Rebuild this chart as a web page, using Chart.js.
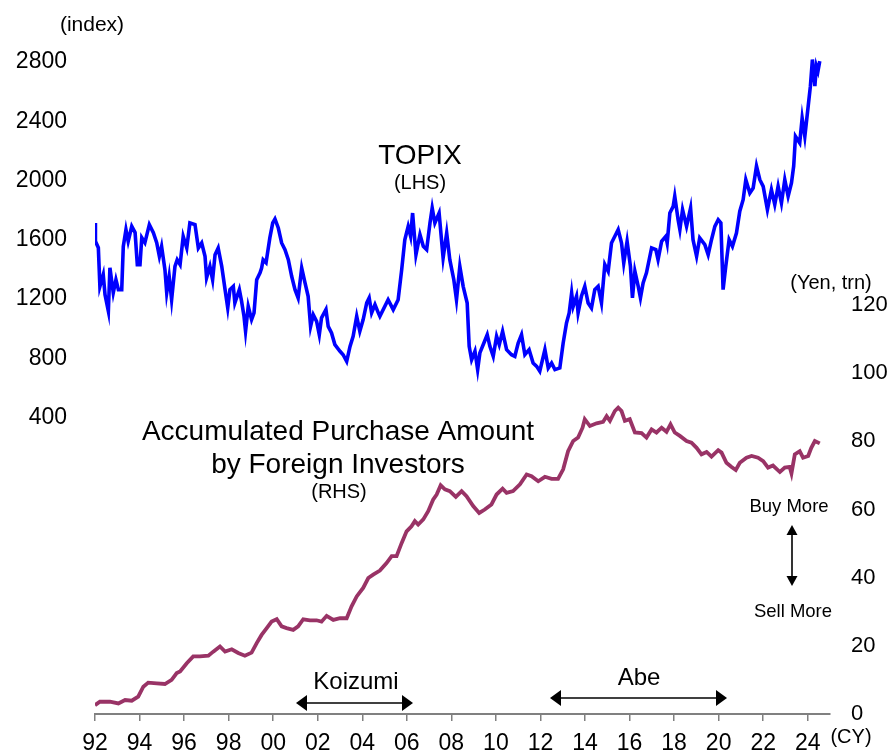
<!DOCTYPE html>
<html>
<head>
<meta charset="utf-8">
<script src="https://cdn.jsdelivr.net/npm/chart.js@4.4.1/dist/chart.umd.min.js"></script>
<style>
html,body{margin:0;padding:0;background:#fff;}
canvas{display:block;}
</style>
</head>
<body>
<canvas id="c" width="893" height="754"></canvas>
<script>
// ---- data ----
const xTickYears = [1992,1994,1996,1998,2000,2002,2004,2006,2008,2010,2012,2014,2016,2018,2020,2022,2024];
const leftTicks = [400,800,1200,1600,2000,2400,2800];
const rightTicks = [0,20,40,60,80,100,120];

const topixYears = [1992.00,1992.02,1992.15,1992.22,1992.37,1992.45,1992.60,1992.67,1992.82,1992.94,
1993.05,1993.20,1993.27,1993.39,1993.49,1993.65,1993.80,1993.90,
1994.02,1994.10,1994.24,1994.44,1994.62,1994.77,1994.89,1994.99,
1995.14,1995.22,1995.33,1995.44,1995.59,1995.69,1995.82,1995.96,
1996.12,1996.26,1996.49,1996.64,1996.79,1996.94,
1997.01,1997.16,1997.28,1997.39,1997.53,1997.69,1997.84,1997.96,
1998.06,1998.21,1998.28,1998.48,1998.58,1998.69,1998.76,1998.88,
1999.03,1999.14,1999.26,1999.41,1999.48,1999.55,1999.68,1999.85,1999.98,
2000.08,2000.23,2000.38,2000.53,2000.68,2000.83,2000.98,
2001.12,2001.28,2001.43,2001.57,2001.68,2001.80,2001.95,
2002.07,2002.17,2002.37,2002.47,2002.62,2002.77,
2003.00,2003.14,2003.30,2003.45,2003.59,2003.75,2003.89,
2004.04,2004.20,2004.31,2004.42,2004.57,2004.72,2004.79,
2005.16,2005.39,2005.61,2005.77,2005.91,
2006.06,2006.17,2006.26,2006.41,2006.59,2006.74,2006.89,
2007.04,2007.14,2007.26,2007.45,2007.63,2007.79,2007.93,
2008.11,2008.23,2008.38,2008.53,2008.71,2008.80,2008.91,
2009.06,2009.18,2009.28,2009.46,2009.61,2009.73,2009.88,
2010.03,2010.15,2010.30,2010.48,2010.70,2010.85,
2011.00,2011.15,2011.30,2011.49,2011.67,2011.83,2011.97,
2012.20,2012.35,2012.50,2012.65,2012.87,
2013.02,2013.17,2013.29,2013.40,2013.47,2013.62,2013.69,2013.84,2013.99,
2014.14,2014.29,2014.44,2014.59,2014.74,2014.89,
2015.04,2015.19,2015.34,2015.49,2015.64,2015.74,2015.89,
2016.04,2016.13,2016.24,2016.39,2016.49,2016.61,2016.76,2016.99,
2017.18,2017.28,2017.44,2017.63,2017.69,2017.81,2017.96,
2018.03,2018.18,2018.26,2018.38,2018.56,2018.74,2018.85,
2019.01,2019.15,2019.38,2019.53,2019.68,2019.83,2019.98,
2020.10,2020.20,2020.32,2020.47,2020.62,2020.80,2020.95,
2021.10,2021.22,2021.40,2021.55,2021.70,2021.85,
2022.00,2022.19,2022.37,2022.52,2022.67,2022.82,2022.97,
2023.12,2023.27,2023.37,2023.45,2023.64,2023.75,2023.87,
2024.02,2024.12,2024.21,2024.32,2024.39,2024.46,2024.54];

const topixValues = [1714,1590,1547,1286,1365,1230,1118,1412,1243,1331,
1264,1264,1556,1669,1590,1691,1649,1433,
1433,1615,1581,1703,1649,1581,1489,1556,
1399,1243,1354,1196,1421,1466,1433,1624,
1545,1714,1703,1545,1579,1489,
1343,1421,1331,1500,1545,1421,1264,1140,
1264,1286,1174,1264,1186,1084,983,1151,
1062,1107,1331,1377,1410,1466,1446,1613,1714,
1741,1680,1579,1534,1466,1354,1264,
1208,1410,1309,1219,1016,1095,1050,
960,1073,1129,1016,972,893,
848,825,780,881,949,1084,983,
1062,1174,1208,1107,1163,1107,1084,
1196,1129,1196,1399,1601,
1691,1624,1781,1500,1635,1556,1534,
1714,1815,1714,1781,1478,1646,1466,
1331,1196,1421,1286,1174,881,791,
848,724,837,904,960,881,814,
949,893,983,859,825,814,
904,960,825,859,769,746,713,
859,735,769,724,735,
904,1039,1107,1242,1151,1219,1107,1219,1286,
1174,1140,1264,1286,1174,1433,
1388,1579,1624,1669,1579,1444,1590,
1421,1208,1388,1286,1208,1309,1377,1545,
1534,1466,1590,1624,1579,1781,1826,
1894,1736,1669,1804,1691,1815,1601,
1489,1613,1568,1500,1601,1691,1736,
1714,1264,1421,1601,1556,1646,1793,
1871,2006,1916,1950,2098,2006,
1961,1804,1939,1838,1961,1849,2006,
1894,1984,2098,2298,2254,2422,2298,
2502,2637,2817,2637,2772,2739,2806];

const foreignYears = [1992.00,1992.22,1992.67,1993.05,1993.35,1993.65,1993.94,1994.17,1994.39,1994.77,
1995.14,1995.44,1995.67,1995.82,1996.12,1996.41,1996.71,1997.09,1997.31,1997.61,1997.84,
1998.14,1998.43,1998.73,1999.03,1999.26,1999.48,1999.71,1999.93,2000.16,2000.38,2000.60,2000.90,
2001.12,2001.35,2001.65,2001.95,2002.17,2002.40,2002.70,2003.00,2003.30,2003.52,2003.75,
2004.04,2004.27,2004.49,2004.79,2005.09,2005.32,2005.54,2005.77,2005.99,2006.21,2006.36,2006.51,2006.74,2006.96,
2007.18,2007.34,2007.52,2007.71,2007.93,2008.20,2008.46,2008.68,2008.98,2009.25,2009.50,2009.80,
2010.03,2010.30,2010.48,2010.77,2011.08,2011.38,2011.60,2011.90,2012.20,2012.50,2012.79,
2013.02,2013.24,2013.47,2013.69,2013.89,2013.99,2014.22,2014.52,2014.81,2014.97,
2015.12,2015.34,2015.49,2015.64,2015.79,2016.01,2016.24,2016.54,2016.76,2016.99,
2017.21,2017.44,2017.66,2017.84,2018.03,2018.26,2018.56,2018.78,2019.01,2019.23,2019.46,2019.68,2019.98,
2020.13,2020.35,2020.58,2020.77,2020.95,2021.25,2021.48,2021.77,2022.00,2022.22,2022.44,2022.75,2022.97,
2023.19,2023.27,2023.42,2023.64,2023.79,2024.02,2024.16,2024.32,2024.54];

const foreignValues = [2.6,3.6,3.6,3.1,4.1,3.9,5.1,8.0,9.2,9.0,
8.8,10.0,12.0,12.5,14.9,16.9,16.9,17.1,18.3,19.8,18.3,
19.0,17.9,17.1,18.0,20.8,23.2,25.2,27.1,27.8,25.7,25.2,24.7,
25.7,27.8,27.5,27.5,27.1,28.8,27.6,28.1,28.1,31.6,34.5,
37.0,39.9,40.9,42.1,44.3,46.3,46.3,50.2,53.6,55.1,56.6,55.6,57.1,59.5,
62.9,64.4,67.1,65.9,65.4,63.7,65.4,63.9,61.0,59.0,60.0,61.5,
64.4,66.1,64.9,65.4,67.4,70.3,69.8,68.3,69.6,69.0,69.0,
71.8,77.1,80.1,81.1,84.0,86.5,84.5,85.3,85.7,87.4,
86.0,88.9,89.9,88.9,86.0,86.5,82.6,82.4,81.1,83.5,
82.6,84.0,82.8,85.0,82.6,81.6,80.1,79.6,78.1,76.2,76.9,75.5,77.4,
76.7,73.7,72.5,71.6,73.7,75.2,75.7,75.2,74.2,72.3,72.9,71.0,72.3,
72.5,70.6,76.2,77.1,75.2,75.7,78.1,80.1,79.4];

// ---- chart ----
const FAMILY = '"Liberation Sans", Arial, Helvetica, sans-serif';
const AREA = { left: 95, right: 830, top: 32.4, bottom: 714 };

function arrowHead(c, tx, ty, dx, dy, len, half) {
  c.beginPath();
  c.moveTo(tx, ty);
  c.lineTo(tx - dx * len - dy * half, ty - dy * len + dx * half);
  c.lineTo(tx - dx * len + dy * half, ty - dy * len - dx * half);
  c.closePath();
  c.fill();
}
function dblArrow(c, x1, y1, x2, y2, len, half) {
  const L = Math.hypot(x2 - x1, y2 - y1), dx = (x2 - x1) / L, dy = (y2 - y1) / L;
  c.beginPath();
  c.moveTo(x1 + dx * len * 0.5, y1 + dy * len * 0.5);
  c.lineTo(x2 - dx * len * 0.5, y2 - dy * len * 0.5);
  c.stroke();
  arrowHead(c, x2, y2, dx, dy, len, half);
  arrowHead(c, x1, y1, -dx, -dy, len, half);
}

const notes = {
  id: 'notes',
  afterDraw(chart) {
    const c = chart.ctx;
    c.save();
    c.fillStyle = '#000';
    c.strokeStyle = '#000';
    c.lineWidth = 1.6;
    const txt = (t, x, y, s) => {
      c.font = s + 'px ' + FAMILY;
      c.textAlign = 'center';
      c.textBaseline = 'alphabetic';
      c.fillText(t, x, y);
    };
    txt('(index)', 92, 31, 21);
    txt('TOPIX', 420, 164, 28);
    txt('(LHS)', 420, 189, 20);
    txt('Accumulated Purchase Amount', 338, 440, 28);
    txt('by Foreign Investors', 338, 473, 28);
    txt('(RHS)', 339, 498, 20);
    txt('(Yen, trn)', 831, 289, 20);
    txt('Buy More', 789, 512, 18.5);
    txt('Sell More', 793, 617, 18.5);
    txt('Koizumi', 356, 689, 24);
    txt('Abe', 639, 685, 24);
    txt('(CY)', 851, 743, 20);
    dblArrow(c, 296, 703, 413, 703, 11, 8);
    dblArrow(c, 550, 698, 727, 698, 11, 8);
    dblArrow(c, 792, 525, 792, 586, 10, 5.5);
    c.restore();
  }
};

// value axes: fixed width, and no extra vertical padding for their labels
function fitY(width) {
  return s => { s.width = width; s.paddingTop = 0; s.paddingBottom = 0; };
}

function makeChart(padTop, xAxisHeight) {
  return new Chart(document.getElementById('c').getContext('2d'), {
    type: 'line',
    data: {
      datasets: [
        {
          label: 'TOPIX',
          data: topixYears.map((x, i) => ({ x: x, y: topixValues[i] })),
          yAxisID: 'yL',
          borderColor: '#0000ff',
          borderWidth: 3.6,
          pointRadius: 0,
          tension: 0,
          fill: false
        },
        {
          label: 'Accumulated Purchase Amount by Foreign Investors',
          data: foreignYears.map((x, i) => ({ x: x, y: foreignValues[i] })),
          yAxisID: 'yR',
          borderColor: '#993366',
          borderWidth: 3.8,
          pointRadius: 0,
          tension: 0,
          fill: false
        }
      ]
    },
    options: {
      responsive: false,
      animation: false,
      layout: { padding: { top: padTop, left: 0, right: 0, bottom: 0 } },
      plugins: { legend: { display: false }, tooltip: { enabled: false } },
      scales: {
        x: {
          type: 'linear',
          min: 1992,
          max: 2025,
          afterBuildTicks: s => { s.ticks = xTickYears.map(v => ({ value: v })); },
          afterFit: s => { s.height = xAxisHeight; },
          ticks: {
            autoSkip: false,
            maxRotation: 0,
            padding: 9,
            color: '#000',
            font: { family: FAMILY, size: 23 },
            callback: v => String(v % 100).padStart(2, '0')
          },
          grid: { drawOnChartArea: false, drawTicks: true, tickLength: 7, color: '#808080', lineWidth: 1.5 },
          border: { display: true, color: '#808080', width: 2 }
        },
        yL: {
          position: 'left',
          min: -1600,
          max: 3000,
          afterBuildTicks: s => { s.ticks = leftTicks.map(v => ({ value: v })); },
          afterFit: fitY(AREA.left),
          ticks: { padding: 28, color: '#000', font: { family: FAMILY, size: 23 }, callback: v => String(v) },
          grid: { display: false, drawTicks: false },
          border: { display: false }
        },
        yR: {
          position: 'right',
          min: 0,
          max: 200,
          afterBuildTicks: s => { s.ticks = rightTicks.map(v => ({ value: v })); },
          afterFit: fitY(893 - AREA.right),
          ticks: { padding: 21, color: '#000', font: { family: FAMILY, size: 22 }, callback: v => String(v) },
          grid: { display: false, drawTicks: false },
          border: { display: false }
        }
      }
    },
    plugins: [notes]
  });
}

// build, measure the plot frame, and rebuild so that it sits where the reference has it
let padTop = AREA.top, xH = 754 - AREA.bottom;
let chart = makeChart(padTop, xH);
for (let k = 0; k < 4; k++) {
  const ca = chart.chartArea;
  const dTop = AREA.top - ca.top;
  const dBottom = ca.bottom - AREA.bottom;
  if (Math.abs(dTop) < 0.2 && Math.abs(dBottom) < 0.2) break;
  padTop = Math.max(0, padTop + dTop);
  xH = Math.max(20, xH + dBottom);
  chart.destroy();
  chart = makeChart(padTop, xH);
}
</script>
</body>
</html>
